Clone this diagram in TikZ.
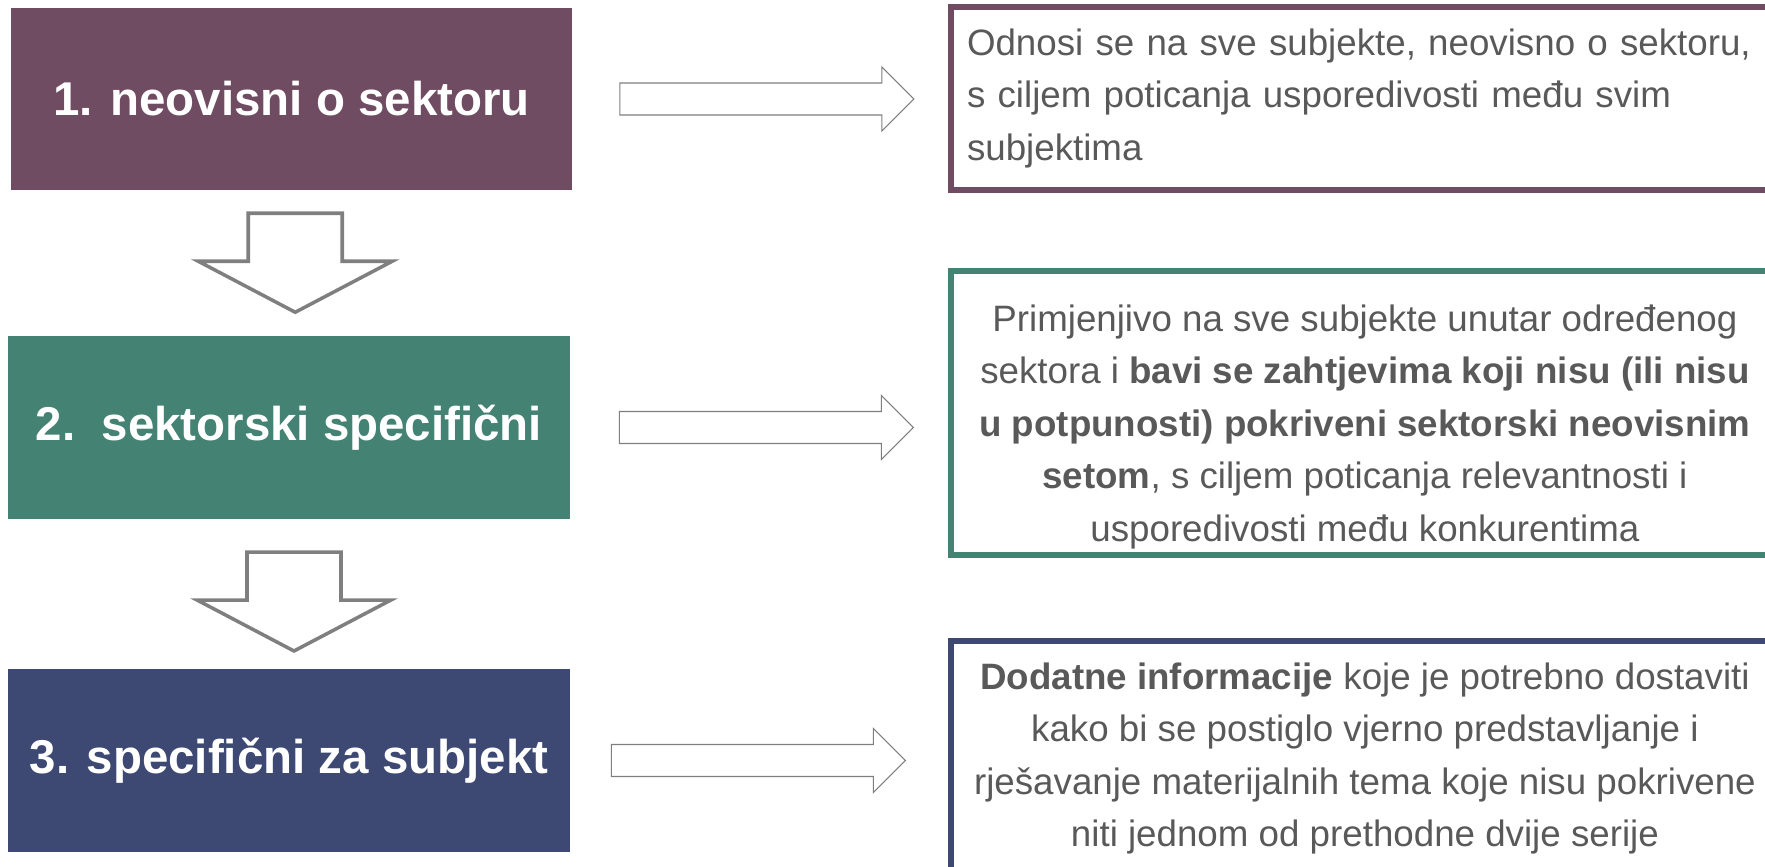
\documentclass[tikz,border=0pt]{standalone}
\usepackage{fontspec}
\setmainfont{Liberation Sans}
\usetikzlibrary{calc}
\definecolor{plum}{RGB}{112,76,98}
\definecolor{sea}{RGB}{68,130,116}
\definecolor{navy}{RGB}{61,73,115}
\definecolor{txtgray}{RGB}{89,89,89}
\definecolor{arrgray}{RGB}{127,127,127}
\begin{document}
\begin{tikzpicture}[x=0.02cm,y=-0.02cm,
secbox/.style={minimum width=11.24cm,minimum height=3.66cm,inner sep=0pt,text=white,font=\fontsize{27}{32}\selectfont\bfseries},
descbox/.style={draw,line width=0.12cm,anchor=west,minimum width=16.56cm,inner xsep=0.32cm,text=txtgray,font=\fontsize{20.9}{29.9}\selectfont},
downarr/.pic={
\draw[arrgray,line width=2pt,fill=white](-47,0)--(47,0)--(47,48)--(97,48)--(0,99)--(-97,48)--(-47,48)--cycle;
},
rightarr/.pic={
\draw[arrgray,line width=0.6pt,fill=white](0,-16)--(262,-16)--(262,-32)--(294,0)--(262,32)--(262,16)--(0,16)--cycle;
}]
\useasboundingbox(0,0)rectangle(1765,866);
% left column
\node[secbox,fill=plum](sec1)at(291.5,99){1. neovisni o sektoru};
\node[secbox,fill=sea](sec2)at(289,427.5){2.\ \ sektorski specifični};
\node[secbox,fill=navy](sec3)at(289,760.5){3. specifični za subjekt};
% right column
\node[descbox,draw=plum,text width=16.5cm,align=left,minimum height=3.66cm](txt1)at(948,98.5){Odnosi se na sve subjekte, neovisno o sektoru,\\s ciljem poticanja usporedivosti među svim\\subjektima};
\node[descbox,draw=sea,align=center,inner ysep=0pt,minimum height=5.68cm](txt2)at(948,413){\rule{0pt}{30.6pt}Primjenjivo na sve subjekte unutar određenog\\sektora i \textbf{bavi se zahtjevima koji nisu (ili nisu}\\\textbf{u potpunosti) pokriveni sektorski neovisnim}\\\textbf{setom}, s ciljem poticanja relevantnosti i\\usporedivosti među konkurentima};
\node[descbox,draw=navy,align=center,minimum height=4.7cm,anchor=north west](txt3)at(948,638){\textbf{Dodatne informacije} koje je potrebno dostaviti\\kako bi se postiglo vjerno predstavljanje i\\rješavanje materijalnih tema koje nisu pokrivene\\niti jednom od prethodne dvije serije};
% arrows
\path($(sec1.south)!0.5!(sec2.north)+(5,-50)$)pic{downarr};
\path($(sec2.south)!0.5!(sec3.north)+(5,-42)$)pic{downarr};
\path(sec1.east)++(47,0)pic{rightarr};
\path(sec2.east)++(49,0)pic{rightarr};
\path(sec3.east)++(41,0)pic{rightarr};
\end{tikzpicture}
\end{document}
